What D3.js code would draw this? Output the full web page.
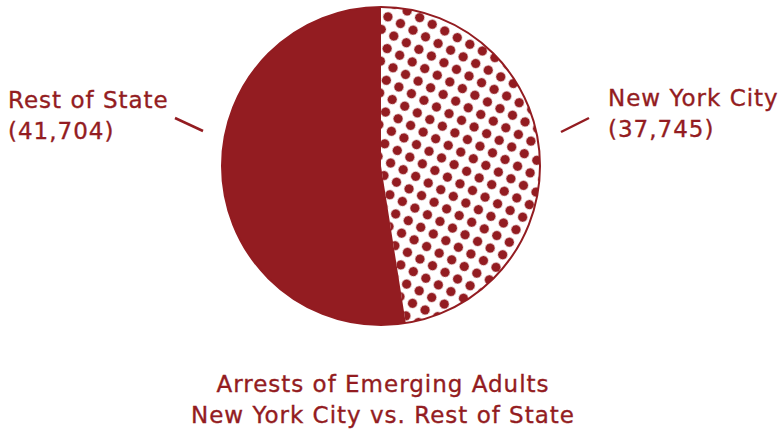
<!DOCTYPE html>
<html>
<head>
<meta charset="utf-8">
<script src="https://cdn.jsdelivr.net/npm/d3@7"></script>
<style>
  html, body { margin: 0; padding: 0; background: #fff; }
  svg { display: block; }
  text { font-family: "DejaVu Sans", sans-serif; fill: #931c21; stroke: #931c21; stroke-width: 0.35; letter-spacing: 1px; }
</style>
</head>
<body>
<svg id="chart" width="780" height="431"></svg>
<script>
// Arrests of emerging adults by region
const regions = ["New York City", "Rest of State"];
const arrests = [37745, 41704];
const titleLines = ["Arrests of Emerging Adults", "New York City vs. Rest of State"];

const red = "#931c21";
const svg = d3.select("#chart");
const cx = 381, cy = 166, R = 159;

// dotted fill for the NYC slice
const step = 14.2;
const defs = svg.append("defs");
const pat = defs.append("pattern")
  .attr("id", "dots")
  .attr("patternUnits", "userSpaceOnUse")
  .attr("width", step).attr("height", step)
  .attr("patternTransform", "rotate(28)");
pat.append("rect").attr("width", step).attr("height", step).attr("fill", "#fff");
pat.append("circle").attr("cx", step / 2).attr("cy", step / 2).attr("r", 4.7).attr("fill", red);

const data = regions.map((r, i) => ({ region: r, value: arrests[i] }));
const pie = d3.pie().sort(null).value(d => d.value);
const arc = d3.arc().innerRadius(0).outerRadius(R);

const g = svg.append("g").attr("transform", `translate(${cx},${cy})`);
g.selectAll("path.slice")
  .data(pie(data))
  .join("path")
  .attr("class", "slice")
  .attr("d", arc)
  .attr("fill", (d, i) => i === 0 ? "url(#dots)" : red);

// outline
g.append("circle").attr("r", R).attr("fill", "none").attr("stroke", red).attr("stroke-width", 2);

const fmt = d3.format(",");

// leader lines
svg.append("line").attr("x1", 175).attr("y1", 118).attr("x2", 203).attr("y2", 131)
  .attr("stroke", red).attr("stroke-width", 2.5);
svg.append("line").attr("x1", 561).attr("y1", 132).attr("x2", 589).attr("y2", 118)
  .attr("stroke", red).attr("stroke-width", 2.5);

// slice labels
const labels = [
  { x: 8, y: 108, i: 1 },
  { x: 608, y: 106, i: 0 }
];
labels.forEach(l => {
  const t = svg.append("text").attr("x", l.x).attr("y", l.y)
    .attr("text-anchor", "start").attr("font-size", 23);
  t.append("tspan").attr("x", l.x).text(regions[l.i]);
  t.append("tspan").attr("x", l.x).attr("dy", 31).text(`(${fmt(arrests[l.i])})`);
});

// title
svg.selectAll("text.title")
  .data(titleLines)
  .join("text")
  .attr("class", "title")
  .attr("x", 383)
  .attr("y", (d, i) => 392 + i * 31)
  .attr("text-anchor", "middle")
  .attr("font-size", 23)
  .text(d => d);
</script>
</body>
</html>
